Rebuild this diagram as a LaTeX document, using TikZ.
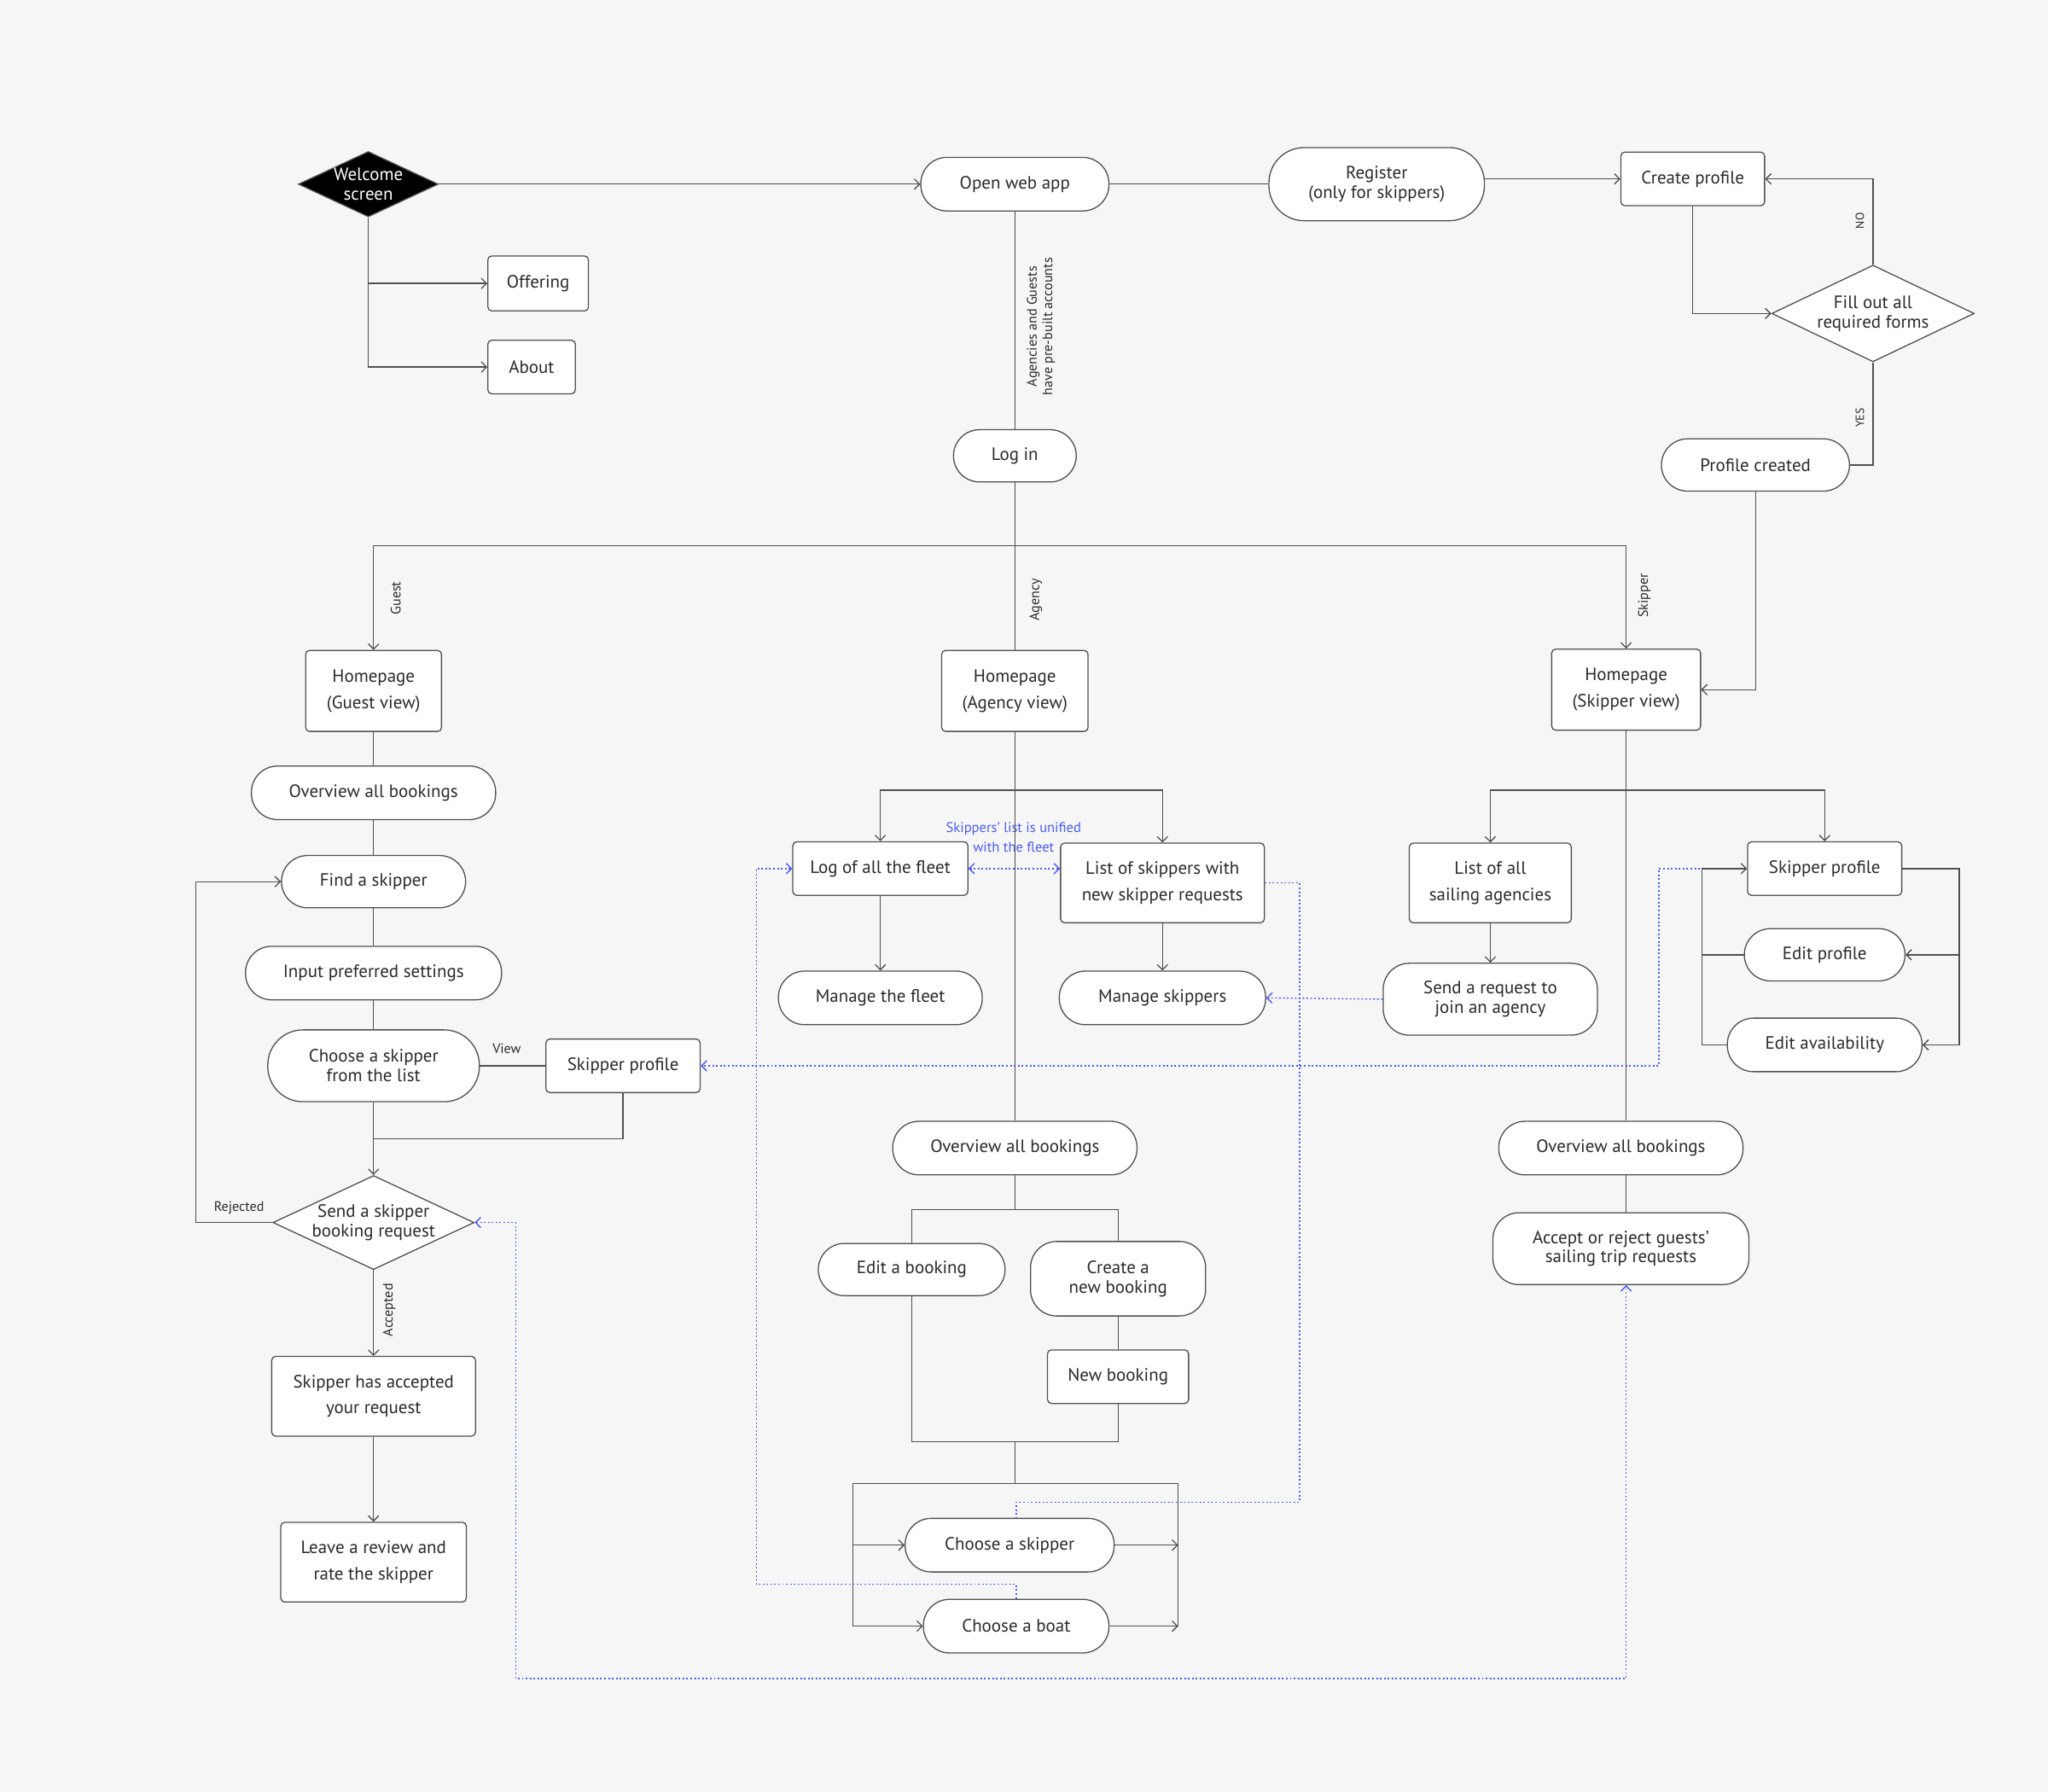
\documentclass[tikz,border=0pt]{standalone}
\usepackage{fontspec}
\setmainfont{PT Sans}
\usetikzlibrary{arrows.meta,shapes.geometric,calc}
\definecolor{bgc}{HTML}{F6F6F6}
\definecolor{lnc}{HTML}{505050}
\definecolor{txc}{HTML}{2A2A2A}
\definecolor{blc}{HTML}{4A5DF7}
\tikzset{
  nbase/.style={draw=lnc, fill=white, line width=0.85pt, text=txc, font=\fontsize{13.7}{15}\selectfont, align=center, inner sep=0pt},
  pill/.style={nbase, rounded corners=20pt},
  bigpill/.style={nbase, rounded corners=27pt},
  rbox/.style={nbase, rounded corners=3pt, font=\fontsize{13.7}{20}\selectfont},
  dia/.style={nbase, diamond},
  conn/.style={draw=lnc, line width=0.85pt},
  arr/.style={conn, -{Straight Barb[length=4pt,width=8pt]}},
  dotb/.style={draw=blc, line width=0.9pt, dash pattern=on 1.3pt off 1.7pt},
  bltip/.style={-{Straight Barb[length=4pt,width=8pt]}},
  bltips/.style={{Straight Barb[length=4pt,width=8pt]}-{Straight Barb[length=4pt,width=8pt]}},
  lbl/.style={text=txc, font=\fontsize{10.5}{12}\selectfont, inner sep=0pt, align=center},
  dlbl/.style={text=txc, font=\fontsize{13.7}{15}\selectfont, inner sep=0pt, align=center},
}
\begin{document}
\begin{tikzpicture}[x=1pt,y=-1pt]
\fill[bgc] (0,0) rectangle (1568,1372);
\useasboundingbox (0,0) rectangle (1568,1372);

% ---------- top row ----------
\node[dia, fill=black, minimum width=107pt, minimum height=50pt,
  label={[dlbl, text=white]center:Welcome\\screen}] (wel) at (282,141) {};
\node[rbox, minimum width=77pt, minimum height=42pt] (off) at (412,217) {Offering};
\node[rbox, minimum width=67pt, minimum height=41pt] (abt) at (407,281) {About};
\node[pill, minimum width=144pt, minimum height=41pt] (owa) at (777,141) {Open web app};
\node[bigpill, minimum width=165pt, minimum height=56pt] (reg) at (1054,141) {Register\\(only for skippers)};
\node[rbox, minimum width=110pt, minimum height=41pt] (cp) at (1296,137) {Create profile};
\node[dia, minimum width=155pt, minimum height=74pt,
  label={[dlbl]center:Fill out all\\required forms}] (fill) at (1434,240) {};
\node[pill, minimum width=144pt, minimum height=40pt] (pc) at (1344,356) {Profile created};
\node[pill, minimum width=94pt, minimum height=40pt] (li) at (777,349) {Log in};

% ---------- homepages ----------
\node[rbox, minimum width=104pt, minimum height=62pt] (hg) at (286,529) {Homepage\\(Guest view)};
\node[rbox, minimum width=112pt, minimum height=62pt] (ha) at (777,529) {Homepage\\(Agency view)};
\node[rbox, minimum width=114pt, minimum height=62pt] (hs) at (1245,528) {Homepage\\(Skipper view)};

% ---------- guest column ----------
\node[pill, minimum width=187pt, minimum height=41pt] (og) at (286,607) {Overview all bookings};
\node[pill, minimum width=141pt, minimum height=40pt] (fs) at (286,675) {Find a skipper};
\node[pill, minimum width=196pt, minimum height=41pt] (ip) at (286,745) {Input preferred settings};
\node[bigpill, minimum width=162pt, minimum height=55pt] (cl) at (286,816) {Choose a skipper\\from the list};
\node[rbox, minimum width=118pt, minimum height=41pt] (spg) at (477,816) {Skipper profile};
\node[dia, minimum width=154pt, minimum height=72pt,
  label={[dlbl]center:Send a skipper\\booking request}] (sbr) at (286,936) {};
\node[rbox, minimum width=156pt, minimum height=61pt] (sa) at (286,1069) {Skipper has accepted\\your request};
\node[rbox, minimum width=142pt, minimum height=61pt] (lr) at (286,1196) {Leave a review and\\rate the skipper};

% ---------- agency column ----------
\node[rbox, minimum width=134pt, minimum height=41pt] (lf) at (674,665) {Log of all the fleet};
\node[rbox, minimum width=156pt, minimum height=61pt] (ls) at (890,676) {List of skippers with\\new skipper requests};
\node[pill, minimum width=156pt, minimum height=41pt] (mf) at (674,764) {Manage the fleet};
\node[pill, minimum width=158pt, minimum height=41pt] (ms) at (890,764) {Manage skippers};
\node[pill, minimum width=187pt, minimum height=41pt] (oa) at (777,879) {Overview all bookings};
\node[pill, minimum width=143pt, minimum height=40pt] (eb) at (698,972) {Edit a booking};
\node[pill, minimum width=134pt, minimum height=57pt] (cn) at (856,979) {Create a\\new booking};
\node[rbox, minimum width=108pt, minimum height=41pt] (nb) at (856,1054) {New booking};
\node[pill, minimum width=160pt, minimum height=41pt] (cs) at (773,1183) {Choose a skipper};
\node[pill, minimum width=142pt, minimum height=41pt] (cb) at (778,1245) {Choose a boat};

% ---------- skipper column ----------
\node[rbox, minimum width=124pt, minimum height=61pt] (la) at (1141,676) {List of all\\sailing agencies};
\node[pill, minimum width=164pt, minimum height=55pt] (sr) at (1141,765) {Send a request to\\join an agency};
\node[rbox, minimum width=118pt, minimum height=41pt] (sps) at (1397,665) {Skipper profile};
\node[pill, minimum width=123pt, minimum height=40pt] (ep) at (1397,731) {Edit profile};
\node[pill, minimum width=149pt, minimum height=41pt] (ea) at (1397,800) {Edit availability};
\node[pill, minimum width=187pt, minimum height=41pt] (os) at (1241,879) {Overview all bookings};
\node[pill, minimum width=196pt, minimum height=55pt] (ar) at (1241,956) {Accept or reject guests'\\sailing trip requests};

% ---------- helper coordinates ----------
\coordinate (sp) at (777,418);
\coordinate (ab) at (777,605);
\coordinate (sb) at (1245,605);
\coordinate (bk1) at (777,926);
\coordinate (bk2) at (777,1104);
\coordinate (bk3) at (777,1136);
\coordinate (bl) at (653,1245);
\coordinate (br) at (902,1245);
\coordinate (gj) at (286,872);
\coordinate (rj) at (150,675);
\coordinate (pl) at (1303,665);
\coordinate (pr) at (1500,800);

% ---------- blue dotted connectors (below solid ones) ----------
\draw[dotb, bltips] (lf.east) -- (ls.west|-lf.east);
\draw[dotb] (ls.east) -| (995,1150) -| ($(cs.north)+(5,0)$);
\draw[dotb, bltip] (cb.north) |- (579,1213) |- (lf.west);
\draw[dotb, bltip] (sr.west) -- (ms.east);
\draw[dotb, bltip] (sps.west) -| (1270,816) -- (spg.east);
\draw[dotb, bltips] (sbr.east) -| (395,1285) -| (ar.south-|hs.south);
\node[text=blc, font=\fontsize{10.8}{15}\selectfont, align=center, inner sep=0pt] (unif) at (776,641) {Skippers' list is unified\\with the fleet};

% ---------- solid connectors ----------
\draw[arr] (wel.east) -- (owa.west);
\draw[arr] (wel.south) |- (off.west);
\draw[arr] (wel.south) |- (abt.west);
\draw[conn] (owa.east) -- (reg.west);
\draw[arr] (reg.east|-cp.west) -- (cp.west);
\draw[arr] (cp.south) |- (fill.west);
\draw[arr] (fill.north) |- (cp.east);
\draw[conn] (fill.south) |- (pc.east);
\draw[arr] (pc.south) |- (hs.east);
\draw[conn] (owa.south) -- (li.north);
\draw[conn] (li.south) -- (sp) -- (ha.north);
\draw[arr] (sp) -| (hg.north);
\draw[arr] (sp) -| (hs.north);

% guest
\draw[conn] (hg.south) -- (og.north);
\draw[conn] (og.south) -- (fs.north);
\draw[conn] (fs.south) -- (ip.north);
\draw[conn] (ip.south) -- (cl.north);
\draw[conn] (cl.east) -- (spg.west);
\draw[arr] (cl.south) -- (sbr.north);
\draw[conn] (spg.south) |- (gj);
\draw[arr] (sbr.west) -| (rj) -- (fs.west);
\draw[arr] (sbr.south) -- (sa.north);
\draw[arr] (sa.south) -- (lr.north);

% agency
\draw[conn] (ha.south) -- (oa.north);
\draw[arr] (ab) -| (lf.north);
\draw[arr] (ab) -| (ls.north);
\draw[arr] (lf.south) -- (mf.north);
\draw[arr] (ls.south) -- (ms.north);
\draw[conn] (oa.south) -- (bk1);
\draw[conn] (eb.north) |- (bk1) -| (cn.north);
\draw[conn] (cn.south) -- (nb.north);
\draw[conn] (eb.south) |- (bk2) -| (nb.south);
\draw[conn] (bk2) -- (bk3);
\draw[conn] (bl) |- (bk3) -| (br);
\draw[arr] (bl|-cs.west) -- (cs.west);
\draw[arr] (bl) -- (cb.west);
\draw[arr] (cs.east) -- (br|-cs.east);
\draw[arr] (cb.east) -- (br);

% skipper
\draw[conn] (hs.south) -- (hs.south|-os.north);
\draw[arr] (sb) -| (la.north);
\draw[arr] (sb) -| (sps.north);
\draw[arr] (la.south) -- (sr.north);
\draw[arr] (sps.east) -| (pr) -- (ea.east);
\draw[arr] (pr|-ep.east) -- (ep.east);
\draw[arr] (ea.west) -| (pl) -- (sps.west);
\draw[conn] (ep.west) -- (pl|-ep.west);
\draw[conn] (os.south-|hs.south) -- (ar.north-|hs.south);

% ---------- labels ----------
\node[lbl, rotate=90] (lacc) at (797,250) {Agencies and Guests\\have pre-built accounts};
\node[lbl, rotate=90] (lguest) at (303,458) {Guest};
\node[lbl, rotate=90] (lagency) at (793,459) {Agency};
\node[lbl, rotate=90] (lskip) at (1259,456) {Skipper};
\node[lbl, rotate=90, font=\fontsize{9}{10}\selectfont] (lno) at (1424,169) {NO};
\node[lbl, rotate=90, font=\fontsize{9}{10}\selectfont] (lyes) at (1424,320) {YES};
\node[lbl] (lview) at (388,803) {View};
\node[lbl] (lrej) at (183,925) {Rejected};
\node[lbl, rotate=90] (lacp) at (298,1003) {Accepted};
\end{tikzpicture}
\end{document}
